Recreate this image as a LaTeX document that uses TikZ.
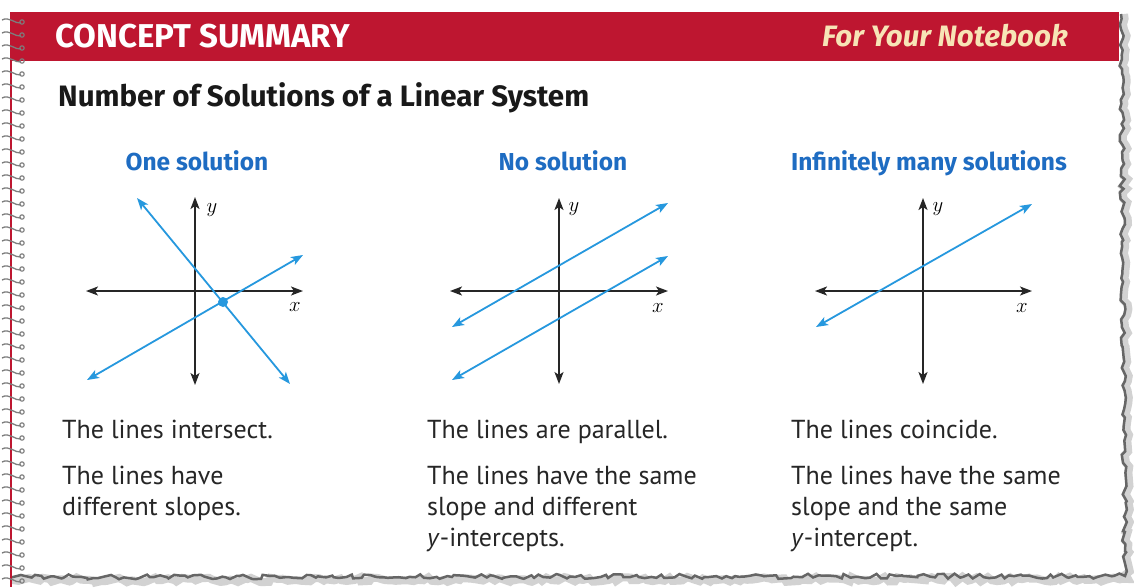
\documentclass[tikz,border=0pt]{standalone}
\usepackage{fontspec}
\setmainfont{PT Sans}
\newfontfamily\headfont{Fira Sans}
\usetikzlibrary{arrows.meta,decorations.pathmorphing}

\definecolor{bandred}{RGB}{190,22,48}
\definecolor{titleblue}{RGB}{30,108,194}
\definecolor{lineblue}{RGB}{38,152,222}
\definecolor{notecream}{RGB}{247,228,182}
\definecolor{coilgray}{RGB}{125,125,125}

\begin{document}
\begin{tikzpicture}[x=1pt, y=-1pt,
    axis/.style={line width=1.8pt, black!85, {Stealth[length=12pt, width=9pt, inset=3pt]}-{Stealth[length=12pt, width=9pt, inset=3pt]}},
    sol/.style={line width=1.8pt, lineblue, {Stealth[length=12pt, width=9pt, inset=3pt]}-{Stealth[length=12pt, width=9pt, inset=3pt]}},
    axlabel/.style={font=\fontsize{21}{21}\selectfont, inner sep=0pt},
    coltitle/.style={anchor=base, font=\headfont\fontsize{24.5}{28}\selectfont\bfseries, text=titleblue, inner sep=0pt},
    body/.style={font=\fontsize{26}{31}\selectfont, text=black!85, align=left, anchor=north west, inner sep=0pt},
    torn/.style={decorate, decoration={random steps, segment length=5pt, amplitude=2.5pt}}]

    % Page
    \useasboundingbox (0,0) rectangle (1134,587);
    \fill[white] (0,0) rectangle (1134,587);

    % Torn edges
    \pgfmathsetseed{7}
    \draw[torn, gray!35, line width=8pt] (1124,14) -- (1128,579) -- (12,580);
    \pgfmathsetseed{7}
    \draw[torn, black!60, line width=2.5pt] (1121,14) -- (1125,576) -- (12,577);

    % Header band
    \fill[bandred] (10,12) rectangle (1119,61);
    \node[anchor=base west, inner sep=0pt, text=white, font=\headfont\fontsize{33}{34}\selectfont\bfseries] (head) at (55,47) {CONCEPT SUMMARY};
    \node[anchor=base west, inner sep=0pt, text=notecream, font=\headfont\fontsize{29.5}{30}\selectfont\bfseries\itshape] (note) at (822,46) {For Your Notebook};

    % Binding
    \draw[bandred, line width=2pt] (11,12) -- (11,587);
    \foreach \k in {0,...,43} {
        \pgfmathsetmacro{\yy}{20+13*\k}
        \draw[coilgray, line width=1.3pt] (2,\yy) .. controls (9,\yy-4) and (15,\yy+4) .. (21,\yy+3);
        \draw[coilgray, line width=1.1pt] (22,\yy+2) circle (2.2);
    }

    % Title
    \node[anchor=base west, inner sep=0pt, text=black!90, font=\headfont\fontsize{29.5}{32}\selectfont\bfseries] (title) at (58,106) {Number of Solutions of a Linear System};

    % Column titles
    \node[coltitle] (t1) at (197,170) {One solution};
    \node[coltitle] (t2) at (563,170) {No solution};
    \node[coltitle] (t3) at (929,170) {Infinitely many solutions};

    % Graph 1: one solution
    \draw[axis] (86,291) -- (303,291);
    \draw[axis] (195,385) -- (195,197);
    \node[axlabel] (x1) at (295,307) {$x$};
    \node[axlabel] (y1) at (212,210) {$y$};
    \draw[sol] (137,198) -- (290,384);
    \draw[sol] (87,380) -- (303,255);
    \fill[lineblue] (223,302) circle (5);

    % Graph 2: no solution
    \draw[axis] (450,291) -- (668,291);
    \draw[axis] (559,384) -- (559,198);
    \node[axlabel] (x2) at (658,308) {$x$};
    \node[axlabel] (y2) at (574,209) {$y$};
    \draw[sol] (452,327) -- (668,203);
    \draw[sol] (452,380) -- (668,256);

    % Graph 3: infinitely many
    \draw[axis] (815,291) -- (1032,291);
    \draw[axis] (923,384) -- (923,198);
    \node[axlabel] (x3) at (1022,308) {$x$};
    \node[axlabel] (y3) at (938,209) {$y$};
    \draw[sol] (816,327) -- (1032,204);

    % Descriptions
    \node[body] (d1a) at (62,420) {The lines intersect.};
    \node[body] (d1b) at (62,466) {The lines have\\different slopes.};
    \node[body] (d2a) at (427,420) {The lines are parallel.};
    \node[body] (d2b) at (427,466) {The lines have the same\\slope and different\\\textit{y}-intercepts.};
    \node[body] (d3a) at (791,420) {The lines coincide.};
    \node[body] (d3b) at (791,466) {The lines have the same\\slope and the same\\\textit{y}-intercept.};

\end{tikzpicture}
\end{document}
